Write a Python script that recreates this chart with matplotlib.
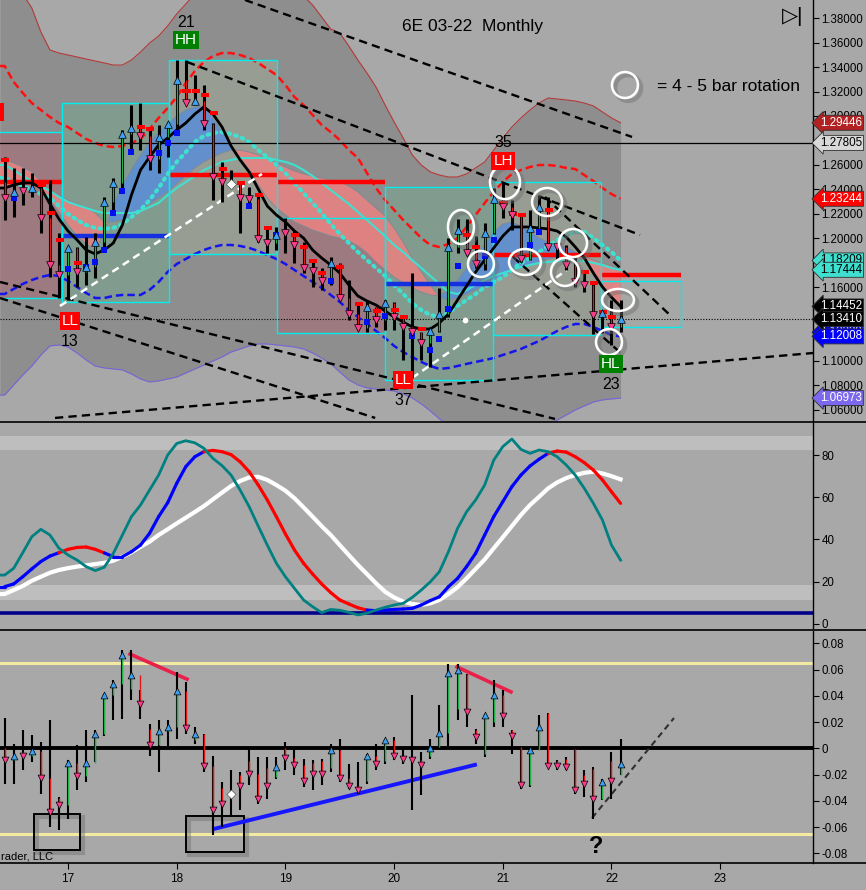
import numpy as np
import pandas as pd
import matplotlib
matplotlib.use('Agg')
import matplotlib.pyplot as plt
from matplotlib.patches import Rectangle, Ellipse
from matplotlib.collections import LineCollection
from matplotlib.lines import Line2D
import matplotlib.transforms as mtrans

plt.rcParams['font.family'] = ['Liberation Sans', 'DejaVu Sans']

# monthly bars, May 2016 .. Jan 2022 (x axis in years - 2000)
months = pd.date_range('2016-05-01', '2022-01-01', freq='MS')
t = np.asarray((months.year - 2000) + months.month / 12.0, dtype=float)

opens = [1.2460, 1.2331, 1.2420, 1.2388, 1.2412, 1.2167, 1.1784, 1.1702, 1.1922, 1.1727,
         1.1767, 1.1971, 1.2298, 1.2453, 1.2853, 1.2902, 1.2837, 1.2649, 1.2829, 1.2935,
         1.3294, 1.3106, 1.3122, 1.2935, 1.2502, 1.2445, 1.2445, 1.2331, 1.2322, 1.1996,
         1.1963, 1.2080, 1.2045, 1.1947, 1.1759, 1.1735, 1.1653, 1.1800, 1.1514, 1.1384,
         1.1269, 1.1441, 1.1335, 1.1473, 1.1359, 1.1278, 1.1237, 1.1147, 1.1245, 1.1384,
         1.1931, 1.2069, 1.1882, 1.1792, 1.2045, 1.2322, 1.2257, 1.2192, 1.1833, 1.2086,
         1.2257, 1.1940, 1.1931, 1.1784, 1.1645, 1.1620, 1.1376, 1.1392, 1.1278]
highs = [1.2665, 1.2576, 1.2576, 1.2535, 1.2453, 1.2478, 1.2045, 1.1931, 1.1931, 1.2012,
         1.2045, 1.2339, 1.2494, 1.2886, 1.3090, 1.3106, 1.2902, 1.2927, 1.2951, 1.3457,
         1.3457, 1.3335, 1.3253, 1.2940, 1.2624, 1.2559, 1.2461, 1.2420, 1.2355, 1.2094,
         1.2094, 1.2167, 1.2069, 1.1971, 1.1824, 1.1759, 1.1849, 1.1800, 1.1661, 1.1473,
         1.1498, 1.1441, 1.1498, 1.1482, 1.1359, 1.1718, 1.1237, 1.1278, 1.1596, 1.2004,
         1.2159, 1.2159, 1.2020, 1.2126, 1.2412, 1.2461, 1.2314, 1.2208, 1.2233, 1.2355,
         1.2339, 1.1947, 1.1947, 1.1849, 1.1743, 1.1645, 1.1400, 1.1498, 1.1498]
lows = [1.2151, 1.2176, 1.2273, 1.2339, 1.2045, 1.1686, 1.1514, 1.1498, 1.1604, 1.1620,
        1.1678, 1.1906, 1.2208, 1.2371, 1.2698, 1.2722, 1.2559, 1.2535, 1.2665, 1.2869,
        1.3106, 1.3090, 1.2886, 1.2314, 1.2298, 1.2420, 1.2045, 1.2273, 1.1971, 1.1882,
        1.1906, 1.1882, 1.1800, 1.1718, 1.1604, 1.1580, 1.1620, 1.1514, 1.1335, 1.1253,
        1.1237, 1.1278, 1.1253, 1.1253, 1.1008, 1.0861, 1.1008, 1.0951, 1.1240, 1.1359,
        1.1882, 1.1865, 1.1759, 1.1743, 1.2040, 1.2167, 1.2069, 1.1808, 1.1824, 1.2069,
        1.1906, 1.1824, 1.1743, 1.1604, 1.1563, 1.1220, 1.1229, 1.1131, 1.1237]
closes = [1.2331, 1.2380, 1.2388, 1.2412, 1.2167, 1.1784, 1.1702, 1.1922, 1.1727, 1.1767,
          1.1971, 1.2298, 1.2453, 1.2853, 1.2902, 1.2837, 1.2649, 1.2829, 1.2935, 1.3294,
          1.3106, 1.3122, 1.2935, 1.2502, 1.2461, 1.2445, 1.2331, 1.2322, 1.1996, 1.1963,
          1.2029, 1.2045, 1.1947, 1.1759, 1.1735, 1.1653, 1.1800, 1.1514, 1.1384, 1.1269,
          1.1441, 1.1335, 1.1473, 1.1359, 1.1278, 1.1237, 1.1147, 1.1245, 1.1384, 1.1931,
          1.2069, 1.1882, 1.1792, 1.2045, 1.2322, 1.2257, 1.2192, 1.1833, 1.2086, 1.2257,
          1.1931, 1.1931, 1.1784, 1.1645, 1.1620, 1.1376, 1.1392, 1.1278, 1.1341]

# small signal squares: bar index -> price
sq_red = {0: 1.2641, 4: 1.2437, 5: 1.2208, 6: 1.1988, 8: 1.1800, 15: 1.2910, 16: 1.2894,
          20: 1.3204, 21: 1.3204, 22: 1.3171, 23: 1.3025, 24: 1.2567, 26: 1.2453, 28: 1.2355,
          29: 1.2086, 32: 1.2029, 33: 1.1931, 34: 1.1816, 35: 1.1718, 37: 1.1767, 39: 1.1465,
          41: 1.1408, 43: 1.1416, 44: 1.1359, 46: 1.1261, 51: 1.2029, 52: 1.1931, 55: 1.2290,
          56: 1.2200, 57: 1.2192, 60: 1.2233, 64: 1.1727, 65: 1.1637, 66: 1.1400, 67: 1.1359}
sq_blue = {1: 1.2331, 7: 1.1751, 9: 1.1767, 10: 1.1808, 11: 1.1906, 12: 1.2208, 13: 1.2388,
           14: 1.2706, 17: 1.2698, 18: 1.2780, 19: 1.2861, 27: 1.2265, 30: 1.2029, 36: 1.1653,
           40: 1.1318, 42: 1.1367, 45: 1.1204, 47: 1.1090, 48: 1.1180, 49: 1.1424, 50: 1.1776,
           53: 1.1857, 54: 1.1988, 58: 1.1947, 59: 1.2053}

ma_black = [1.2412, 1.2437, 1.2453, 1.2453, 1.2412, 1.2282, 1.2159, 1.2061, 1.1988, 1.1906,
            1.1874, 1.1906, 1.1963, 1.2110, 1.2355, 1.2559, 1.2665, 1.2763, 1.2820, 1.2886,
            1.2943, 1.3016, 1.3074, 1.3016, 1.2910, 1.2755, 1.2641, 1.2543, 1.2404, 1.2265,
            1.2192, 1.2135, 1.2061, 1.2004, 1.1906, 1.1841, 1.1784, 1.1718, 1.1620, 1.1531,
            1.1490, 1.1457, 1.1408, 1.1359, 1.1318, 1.1278, 1.1261, 1.1261, 1.1310, 1.1384,
            1.1498, 1.1612, 1.1727, 1.1825, 1.1923, 1.2020, 1.2094, 1.2094, 1.2094, 1.2086,
            1.2078, 1.2061, 1.2012, 1.1931, 1.1841, 1.1718, 1.1604, 1.1520, 1.1445]
cyan_dot = [1.2494, 1.2461, 1.2429, 1.2396, 1.2363, 1.2331, 1.2265, 1.2200, 1.2151, 1.2110,
            1.2086, 1.2078, 1.2086, 1.2118, 1.2176, 1.2233, 1.2314, 1.2412, 1.2527, 1.2625,
            1.2706, 1.2788, 1.2837, 1.2861, 1.2869, 1.2853, 1.2829, 1.2788, 1.2722, 1.2665,
            1.2600, 1.2535, 1.2453, 1.2371, 1.2290, 1.2208, 1.2118, 1.2037, 1.1963, 1.1890,
            1.1824, 1.1759, 1.1694, 1.1620, 1.1547, 1.1473, 1.1416, 1.1376, 1.1359, 1.1392,
            1.1449, 1.1498, 1.1547, 1.1604, 1.1645, 1.1686, 1.1743, 1.1800, 1.1841, 1.1890,
            1.1939, 1.1988, 1.2020, 1.2061, 1.2053, 1.2004, 1.1947, 1.1890, 1.1821]
cyan_solid = [1.2600, 1.2559, 1.2510, 1.2469, 1.2429, 1.2388, 1.2339, 1.2298, 1.2273, 1.2249,
              1.2224, 1.2208, 1.2208, 1.2208, 1.2208, 1.2224, 1.2257, 1.2290, 1.2355, 1.2412,
              1.2461, 1.2510, 1.2559, 1.2592, 1.2625, 1.2641, 1.2657, 1.2657, 1.2657, 1.2657,
              1.2641, 1.2625, 1.2600, 1.2559, 1.2510, 1.2453, 1.2396, 1.2339, 1.2282, 1.2216,
              1.2151, 1.2086, 1.2020, 1.1947, 1.1890, 1.1824, 1.1759, 1.1694, 1.1629, 1.1563,
              1.1547, 1.1580, 1.1620, 1.1661, 1.1694, 1.1718, 1.1743, 1.1767, 1.1784, 1.1800,
              1.1808, 1.1816, 1.1824, 1.1824, 1.1816, 1.1800, 1.1784, 1.1759, 1.1744]
cloud_fast = [1.2420, 1.2429, 1.2437, 1.2429, 1.2396, 1.2314, 1.2216, 1.2110, 1.2020, 1.1955,
              1.1906, 1.2053, 1.2273, 1.2437, 1.2559, 1.2682, 1.2788, 1.2869, 1.2935, 1.3000,
              1.3049, 1.3074, 1.3082, 1.2984, 1.2869, 1.2763, 1.2657, 1.2559, 1.2437, 1.2331,
              1.2249, 1.2192, 1.2135, 1.2102, 1.2069, 1.2045, 1.2020, 1.2004, 1.1980, 1.1939,
              1.1882, 1.1808, 1.1743, 1.1686, 1.1637, 1.1596, 1.1563, 1.1539, 1.1531, 1.1580,
              1.1661, 1.1759, 1.1857, 1.1955, 1.2053, 1.2118, 1.2135, 1.2102, 1.2053, 1.2004,
              1.1971, 1.1947, 1.1931, 1.1890, 1.1824, 1.1727, 1.1620, 1.1522, 1.1433]
cloud_slow = [1.2641, 1.2616, 1.2584, 1.2543, 1.2461, 1.2396, 1.2347, 1.2314, 1.2282, 1.2257,
              1.2208, 1.2135, 1.2135, 1.2151, 1.2184, 1.2233, 1.2282, 1.2331, 1.2380, 1.2445,
              1.2510, 1.2576, 1.2625, 1.2665, 1.2698, 1.2722, 1.2722, 1.2706, 1.2682, 1.2649,
              1.2616, 1.2584, 1.2551, 1.2527, 1.2510, 1.2494, 1.2478, 1.2461, 1.2429, 1.2380,
              1.2314, 1.2249, 1.2184, 1.2086, 1.1971, 1.1841, 1.1727, 1.1620, 1.1522, 1.1498,
              1.1514, 1.1547, 1.1580, 1.1612, 1.1661, 1.1694, 1.1727, 1.1759, 1.1784, 1.1808,
              1.1833, 1.1849, 1.1857, 1.1857, 1.1849, 1.1824, 1.1800, 1.1776, 1.1743]
band_up = [1.3408, 1.3278, 1.3188, 1.3106, 1.3049, 1.2992, 1.2943, 1.2910, 1.2861, 1.2812,
           1.2780, 1.2755, 1.2747, 1.2755, 1.2780, 1.2812, 1.2894, 1.2984, 1.3065, 1.3155,
           1.3269, 1.3367, 1.3441, 1.3490, 1.3514, 1.3514, 1.3498, 1.3474, 1.3433, 1.3384,
           1.3335, 1.3253, 1.3155, 1.3090, 1.3008, 1.2927, 1.2869, 1.2804, 1.2722, 1.2657,
           1.2535, 1.2412, 1.2314, 1.2233, 1.2151, 1.2078, 1.2004, 1.1947, 1.1931, 1.1955,
           1.2004, 1.2094, 1.2192, 1.2290, 1.2380, 1.2461, 1.2527, 1.2559, 1.2584, 1.2600,
           1.2600, 1.2592, 1.2576, 1.2567, 1.2518, 1.2469, 1.2412, 1.2363, 1.2324]
band_lo = [1.1547, 1.1588, 1.1629, 1.1661, 1.1686, 1.1702, 1.1694, 1.1653, 1.1604, 1.1555,
           1.1514, 1.1514, 1.1531, 1.1539, 1.1539, 1.1539, 1.1580, 1.1645, 1.1727, 1.1792,
           1.1833, 1.1873, 1.1906, 1.1931, 1.1947, 1.1947, 1.1939, 1.1923, 1.1898, 1.1865,
           1.1833, 1.1792, 1.1743, 1.1694, 1.1645, 1.1596, 1.1539, 1.1482, 1.1416, 1.1359,
           1.1302, 1.1245, 1.1188, 1.1123, 1.1073, 1.1033, 1.0992, 1.0959, 1.0935, 1.0943,
           1.0959, 1.0976, 1.0992, 1.1008, 1.1024, 1.1049, 1.1073, 1.1098, 1.1131, 1.1163,
           1.1204, 1.1245, 1.1278, 1.1302, 1.1302, 1.1278, 1.1245, 1.1212, 1.1201]
env_up = [1.4192, 1.4094, 1.3996, 1.3882, 1.3686, 1.3539, 1.3514, 1.3498, 1.3482, 1.3465,
          1.3449, 1.3433, 1.3416, 1.3416, 1.3457, 1.3522, 1.3596, 1.3653, 1.3735, 1.3833,
          1.3914, 1.3996, 1.4094, 1.4176, 1.4233, 1.4274, 1.4290, 1.4290, 1.4274, 1.4241,
          1.4192, 1.4127, 1.4061, 1.3980, 1.3906, 1.3808, 1.3710, 1.3678, 1.3571, 1.3457,
          1.3351, 1.3237, 1.3090, 1.2951, 1.2820, 1.2682, 1.2600, 1.2543, 1.2518, 1.2502,
          1.2502, 1.2527, 1.2576, 1.2625, 1.2722, 1.2820, 1.2910, 1.2984, 1.3049, 1.3106,
          1.3147, 1.3139, 1.3131, 1.3122, 1.3106, 1.3082, 1.3033, 1.2984, 1.2945]
env_lo = [1.0722, 1.0804, 1.0886, 1.0959, 1.1049, 1.1123, 1.1131, 1.1114, 1.1065, 1.1008,
          1.0959, 1.0943, 1.0935, 1.0927, 1.0894, 1.0853, 1.0829, 1.0837, 1.0853, 1.0869,
          1.0902, 1.0935, 1.0967, 1.1000, 1.1033, 1.1073, 1.1098, 1.1123, 1.1139, 1.1139,
          1.1131, 1.1123, 1.1114, 1.1098, 1.1065, 1.1024, 1.0976, 1.0910, 1.0845, 1.0804,
          1.0780, 1.0771, 1.0763, 1.0755, 1.0731, 1.0698, 1.0649, 1.0592, 1.0527, 1.0478,
          1.0437, 1.0404, 1.0380, 1.0363, 1.0355, 1.0355, 1.0371, 1.0396, 1.0420, 1.0453,
          1.0486, 1.0518, 1.0559, 1.0600, 1.0633, 1.0665, 1.0682, 1.0690, 1.0697]

# yearly rotation boxes
box_start = [15.95, 16.945, 17.929, 18.923, 19.916, 20.910, 21.903]
box_end = [16.945, 17.929, 18.923, 19.916, 20.910, 21.903, 22.639]
box_hi = [1.2869, 1.3106, 1.3457, 1.2167, 1.2420, 1.2461, 1.1653]
box_lo = [1.1514, 1.1482, 1.1874, 1.1228, 1.0845, 1.1212, 1.1278]
box_mid = [1.2461, 1.2020, 1.2518, 1.2461, 1.1629, 1.1865, 1.1702]
box_fill = ['#b0606c', '#6fae90', '#a6b29c', '#b0606c', '#6fae90', '#a6b29c', '#a4a8a2']
box_line = ['#ff0000', '#1530e0', '#ff0000', '#ff0000', '#1530e0', '#ff0000', '#ff0000']

# trendlines (start, end) in (year, price)
trend_black = [((18.628, 1.3947), (22.189, 1.2829)),
               ((18.095, 1.3441), (22.262, 1.2029)),
               ((21.388, 1.2339), (22.557, 1.1359)),
               ((21.094, 1.1849), (22.106, 1.1049)),
               ((16.374, 1.1645), (21.480, 1.0527)),
               ((16.374, 1.1514), (19.826, 1.0535)),
               ((16.880, 1.0535), (23.854, 1.1065))]
trend_white = [((16.926, 1.1449), (18.784, 1.2527)),
               ((20.165, 1.0861), (21.590, 1.1743))]

circles = [(21.020, 1.2461, 0.276, 0.0278), (21.407, 1.2298, 0.276, 0.0229),
           (20.615, 1.2094, 0.239, 0.0278), (20.799, 1.1792, 0.239, 0.0212),
           (21.204, 1.1808, 0.294, 0.0212), (21.646, 1.1963, 0.258, 0.0229),
           (21.572, 1.1727, 0.258, 0.0229), (22.060, 1.1498, 0.294, 0.0180),
           (21.977, 1.1155, 0.239, 0.0212)]

pivots = [(18.086, '21', 'HH', '#008000', 1.3767, 1.3620),
          (17.018, '13', 'LL', '#ff0000', 1.1155, 1.1327),
          (21.002, '35', 'LH', '#ff0000', 1.2780, 1.2633),
          (20.082, '37', 'LL', '#ff0000', 1.0674, 1.0845),
          (21.995, '23', 'HL', '#008000', 1.0804, 1.0976),
          (16.300, '20', 'LH', '#ff0000', 1.3188, 1.3033)]

flags = [(1.29446, '#b22222', 'white'), (1.27805, '#d8d8d8', 'black'),
         (1.23244, '#ff0000', 'white'), (1.18209, '#40e0d0', 'black'),
         (1.17444, '#40e0d0', 'black'), (1.12339, '#0000ff', 'white'),
         (1.14452, '#000000', 'white'), (1.12008, '#0000ff', 'white'),
         (1.13410, '#000000', 'white'), (1.06973, '#7b68ee', 'white')]
hidden_ticks = [1.28, 1.18, 1.14, 1.12]

# stochastic panel
osc_fast = [23.1, 26.3, 33.7, 41.3, 44.8, 42.1, 35.8, 32.6, 30.2, 27.1,
            25.2, 26.8, 33.4, 42.1, 50.8, 56.3, 63.4, 70.5, 80.0, 85.5,
            86.8, 85.8, 83.2, 78.4, 75.0, 70.5, 63.4, 55.5, 46.3, 37.3,
            28.7, 22.3, 16.8, 11.3, 8.1, 5.3, 6.8, 6.4, 5.4, 4.2,
            5.0, 6.5, 7.8, 8.9, 9.7, 12.5, 16.0, 19.9, 24.7, 34.2,
            45.2, 53.1, 58.7, 65.8, 77.6, 84.0, 87.6, 82.7, 80.8, 82.4,
            81.6, 79.2, 75.3, 70.5, 64.2, 57.1, 49.2, 37.3, 30.2]
osc_mid = [17.6, 18.9, 22.3, 26.0, 29.5, 32.1, 33.7, 35.3, 36.2, 36.4,
           35.3, 33.6, 31.8, 31.8, 34.2, 37.3, 42.9, 50.8, 57.4, 66.6,
           74.5, 79.2, 81.6, 82.2, 81.6, 80.2, 76.8, 72.1, 65.8, 58.7,
           50.8, 42.6, 35.0, 28.7, 23.6, 18.9, 14.8, 11.3, 9.4, 7.6,
           6.5, 6.2, 6.5, 6.8, 7.0, 7.3, 8.9, 11.0, 12.8, 17.6,
           21.5, 27.1, 33.4, 42.1, 50.8, 57.9, 65.0, 70.5, 74.8, 78.0,
           80.8, 81.9, 81.4, 79.2, 76.4, 72.9, 68.2, 62.6, 57.1]
osc_slow = [14.1, 16.0, 17.9, 20.4, 22.3, 24.2, 25.5, 26.4, 27.1, 27.7,
            28.3, 28.9, 29.9, 31.8, 33.9, 36.5, 38.9, 42.1, 44.8, 47.6,
            50.3, 53.0, 55.8, 59.0, 62.2, 65.3, 67.7, 69.4, 69.7, 68.2,
            65.8, 63.1, 59.5, 55.2, 50.8, 46.3, 42.1, 37.3, 32.6, 27.9,
            23.6, 19.2, 15.2, 12.5, 10.5, 9.4, 8.9, 9.7, 11.3, 14.1,
            17.3, 21.5, 26.0, 30.5, 35.8, 41.0, 46.3, 51.6, 56.3, 60.2,
            64.2, 67.0, 69.1, 70.5, 71.6, 72.1, 71.3, 70.0, 68.5]

# momentum panel
mom_open = [0.0000, -0.0092, -0.0030, -0.0061, -0.0021, -0.0224, -0.0380, -0.0435, -0.0112, -0.0211,
            -0.0112, 0.0106, 0.0404, 0.0493, 0.0450, 0.0561, 0.0150, 0.0028, 0.0132, 0.0162,
            0.0434, 0.0060, 0.0111, -0.0138, -0.0300, -0.0346, -0.0200, -0.0100, -0.0199, -0.0150,
            -0.0220, 0.0000, -0.0074, -0.0125, -0.0110, -0.0100, -0.0150, -0.0011, -0.0224, -0.0290,
            -0.0250, -0.0059, -0.0100, 0.0061, -0.0059, -0.0079, -0.0087, -0.0060, 0.0010, 0.0117,
            0.0300, 0.0569, 0.0140, -0.0040, 0.0200, 0.0404, 0.0137, 0.0010, -0.0282, -0.0011,
            0.0269, -0.0100, -0.0080, -0.0003, -0.0200, -0.0160, -0.0384, -0.0100, -0.0206]
mom_high = [0.0233, 0.0035, 0.0142, 0.0099, 0.0048, 0.0213, -0.0371, -0.0092, 0.0022, 0.0137,
            0.0137, 0.0416, 0.0518, 0.0747, 0.0747, 0.0442, 0.0188, 0.0213, 0.0213, 0.0581,
            0.0505, 0.0162, 0.0111, -0.0061, -0.0257, -0.0168, -0.0181, -0.0003, -0.0066, -0.0066,
            -0.0066, 0.0048, 0.0010, -0.0079, -0.0092, -0.0079, 0.0035, 0.0073, -0.0117, -0.0105,
            -0.0041, 0.0035, 0.0073, 0.0086, 0.0010, 0.0404, -0.0028, 0.0073, 0.0327, 0.0645,
            0.0645, 0.0569, 0.0149, 0.0264, 0.0518, 0.0442, 0.0137, 0.0010, -0.0003, 0.0251,
            0.0269, -0.0092, -0.0066, -0.0003, -0.0168, -0.0143, -0.0232, -0.0028, 0.0073]
mom_low = [-0.0270, -0.0270, -0.0168, -0.0105, -0.0351, -0.0600, -0.0625, -0.0536, -0.0320, -0.0257,
           -0.0105, 0.0091, 0.0213, 0.0226, 0.0365, 0.0226, -0.0061, -0.0181, -0.0016, 0.0073,
           0.0111, 0.0035, -0.0181, -0.0663, -0.0600, -0.0524, -0.0473, -0.0282, -0.0422, -0.0384,
           -0.0232, -0.0168, -0.0206, -0.0295, -0.0320, -0.0282, -0.0181, -0.0257, -0.0308, -0.0346,
           -0.0270, -0.0168, -0.0117, -0.0092, -0.0117, -0.0473, -0.0359, -0.0079, 0.0010, 0.0010,
           0.0213, 0.0162, 0.0035, -0.0066, 0.0162, 0.0162, -0.0041, -0.0308, -0.0295, -0.0016,
           -0.0143, -0.0168, -0.0168, -0.0346, -0.0371, -0.0536, -0.0397, -0.0384, -0.0206]
mom_close = [-0.0092, -0.0061, -0.0061, -0.0021, -0.0224, -0.0486, -0.0435, -0.0112, -0.0211, -0.0112,
             0.0106, 0.0404, 0.0493, 0.0708, 0.0561, 0.0335, 0.0028, 0.0132, 0.0162, 0.0434,
             0.0157, 0.0111, -0.0138, -0.0473, -0.0427, -0.0346, -0.0290, -0.0199, -0.0389, -0.0290,
             -0.0143, -0.0074, -0.0125, -0.0249, -0.0199, -0.0199, -0.0011, -0.0224, -0.0290, -0.0315,
             -0.0059, -0.0117, 0.0061, -0.0059, -0.0079, -0.0087, -0.0125, 0.0002, 0.0117, 0.0574,
             0.0594, 0.0277, 0.0086, 0.0251, 0.0404, 0.0243, 0.0091, -0.0282, -0.0011, 0.0162,
             -0.0138, -0.0138, -0.0143, -0.0315, -0.0275, -0.0384, -0.0257, -0.0249, -0.0117]
mom_red = [((17.570, 0.0718), (18.095, 0.0527)), ((20.579, 0.0620), (21.075, 0.0430))]
mom_blue = ((18.343, -0.0614), (20.744, -0.0126))
mom_dash = ((21.821, -0.0531), (22.575, 0.0231))
mom_boxes = [(16.687, 17.110, -0.0773, -0.0498), (18.086, 18.619, -0.0787, -0.0513)]

BG = '#a8a8a8'
W, H = 866.0, 890.0
X0, X1 = 16.374, 23.854

fig = plt.figure(figsize=(8.66, 8.9), dpi=100, facecolor=BG)


def panel(top, bottom):
    ax = fig.add_axes([0, 1 - bottom / H, 813 / W, (bottom - top) / H])
    ax.set_facecolor(BG)
    ax.set_xlim(X0, X1)
    for s in ('left', 'top', 'bottom'):
        ax.spines[s].set_visible(False)
    ax.spines['right'].set_color('black')
    ax.spines['right'].set_linewidth(1.0)
    ax.yaxis.tick_right()
    ax.tick_params(axis='y', direction='out', length=4, width=0.8, labelsize=8.3, pad=2)
    ax.set_xticks([])
    return ax


def ext(vals):
    # carry the first value to the left edge of the axes
    v = np.asarray(vals, dtype=float)
    return np.r_[X0, t], np.r_[v[0], v]


def draw_bars(ax, o, h, l, c, wick, body, ms):
    o, h, l, c = map(np.asarray, (o, h, l, c))
    up = c > o
    dn = c < o
    ax.vlines(t, l, h, color='black', lw=wick, zorder=7)
    ax.vlines(t[up], o[up], c[up], color='#22b04a', lw=body, zorder=8)
    ax.vlines(t[dn], o[dn], c[dn], color='#e01818', lw=body, zorder=8)
    ax.scatter(t[up], c[up], marker='^', s=ms, c='#3ea0f0', edgecolors='black', linewidths=0.5, zorder=9)
    ax.scatter(t[dn], c[dn], marker='v', s=ms, c='#ff3c8c', edgecolors='black', linewidths=0.5, zorder=9)
    eq = ~(up | dn)
    ax.scatter(t[eq], c[eq], marker='D', s=ms * 0.9, c='white', edgecolors='#555555', linewidths=0.5, zorder=9)


# ---------------- price panel ----------------
ax1 = panel(0, 421)
ax1.set_ylim(1.0510, 1.3947)
pt = [v for v in np.round(np.arange(1.06, 1.3801, 0.02), 2) if v not in hidden_ticks]
ax1.set_yticks(pt)
ax1.set_yticklabels(['%.5f' % v for v in pt])

tx, eu = ext(env_up)
_, el = ext(env_lo)
ax1.fill_between(tx, el, eu, color='#8e8e8e', lw=0, zorder=1)
ax1.plot(tx, eu, color='#b23a3a', lw=0.8, zorder=4)
ax1.plot(tx, el, color='#7466d8', lw=0.8, zorder=4)

for x0, x1, lo, hi, fc, lc, md in zip(box_start, box_end, box_lo, box_hi, box_fill, box_line, box_mid):
    ax1.add_patch(Rectangle((x0, lo), x1 - x0, hi - lo, fc=fc, ec='none', alpha=0.42, zorder=2))
    ax1.add_patch(Rectangle((x0, lo), x1 - x0, hi - lo, fill=False, ec='#00eeee', lw=1.0, zorder=6))
    ax1.plot([x0, x1], [md, md], color=lc, lw=3.2, solid_capstyle='butt', zorder=5)

_, cf = ext(cloud_fast)
_, cs = ext(cloud_slow)
ax1.fill_between(tx, cf, cs, where=cf >= cs, interpolate=True, color='#5a8ed8', alpha=0.85, lw=0, zorder=3)
ax1.fill_between(tx, cf, cs, where=cf < cs, interpolate=True, color='#ec8282', alpha=0.85, lw=0, zorder=3)
ax1.plot(tx, cf, color='#7f8a95', lw=0.7, zorder=3)
ax1.plot(tx, cs, color='#7f8a95', lw=0.7, zorder=3)

_, bu = ext(band_up)
_, bl = ext(band_lo)
ax1.plot(tx, bu, color='#ff1010', lw=1.8, ls=(0, (3, 1.6)), zorder=4)
ax1.plot(tx, bl, color='#1414ee', lw=1.8, ls=(0, (3, 1.6)), zorder=4)
_, cd = ext(cyan_dot)
_, cso = ext(cyan_solid)
ax1.plot(tx, cso, color='#40e0d0', lw=1.5, zorder=4)
ax1.plot(tx, cd, color='#40e0d0', lw=3.0, ls=(0, (0.4, 1.3)), dash_capstyle='round', zorder=4)
_, mb = ext(ma_black)
ax1.plot(tx, mb, color='black', lw=2.0, zorder=6)

ax1.axhline(1.27805, color='black', lw=0.9, zorder=5)
ax1.axhline(1.13410, color='black', lw=0.8, ls=(0, (1, 1.5)), zorder=5)

for (a, b) in trend_black:
    ax1.plot([a[0], b[0]], [a[1], b[1]], color='black', lw=1.7, ls=(0, (3.5, 2.2)), zorder=6)
for (a, b) in trend_white:
    ax1.plot([a[0], b[0]], [a[1], b[1]], color='white', lw=1.8, ls=(0, (3, 2)), zorder=6)

draw_bars(ax1, opens, highs, lows, closes, 2.2, 0.9, 30)
ri = list(sq_red.keys())
bi = list(sq_blue.keys())
ax1.scatter(t[ri] - 0.012, list(sq_red.values()), marker='s', s=9, c='#ff0000', lw=0, zorder=8)
ax1.scatter(t[ri] + 0.025, list(sq_red.values()), marker='s', s=9, c='#ff0000', lw=0, zorder=8)
ax1.scatter(t[bi], list(sq_blue.values()), marker='s', s=14, c='#0010ee', lw=0, zorder=8)
ax1.scatter([20.652], [1.1335], s=10, c='white', zorder=8)

for cx, cy, w, h in circles:
    ax1.add_patch(Ellipse((cx + 0.03, cy - 0.0025), w, h, fill=False, ec='#6e6e6e', lw=3, alpha=0.45, zorder=10))
    ax1.add_patch(Ellipse((cx, cy), w, h, fill=False, ec='white', lw=1.8, zorder=11))

ax1.add_patch(Ellipse((22.154, 1.3228), 0.239, 0.0212, fill=False, ec='#6e6e6e', lw=3, alpha=0.45, zorder=10))
ax1.add_patch(Ellipse((22.124, 1.3253), 0.239, 0.0212, fill=False, ec='white', lw=1.8, zorder=11))
ax1.text(22.419, 1.3240, '= 4 - 5 bar rotation', fontsize=12.5, va='center', ha='left', zorder=12)
ax1.text(20.717, 1.3727, '6E 03-22  Monthly', fontsize=12.5, ha='center', va='center', zorder=12)

for px, num, tag, col, ny, ty in pivots:
    ax1.text(px, ny, num, fontsize=11.5, ha='center', va='center', zorder=12, clip_on=True)
    ax1.text(px, ty, tag, fontsize=11, ha='center', va='center', color='white', zorder=12, clip_on=True,
             bbox=dict(boxstyle='square,pad=0.12', fc=col, ec='none'))

trans1 = mtrans.blended_transform_factory(ax1.transAxes, ax1.transData)
for val, fc, tc in flags:
    ax1.text(1.0085, val, '%.5f' % val, transform=trans1, ha='left', va='center', fontsize=8.4, color=tc,
             zorder=20, clip_on=False,
             bbox=dict(boxstyle='larrow,pad=0.13', fc=fc, ec='#303030', lw=0.6))

fig.text(793 / W, 1 - 17 / H, '\u25b7|', fontsize=15, ha='center', va='center')

# ---------------- stochastic panel ----------------
ax2 = panel(423, 628)
ax2.set_ylim(-2.0, 95.2)
ax2.set_yticks([0, 20, 40, 60, 80])
ax2.set_yticklabels(['0', '20', '40', '60', '80'])
ax2.axhspan(82.4, 89.0, color='#bebebe', lw=0, zorder=1)
ax2.axhspan(11.3, 18.4, color='#bebebe', lw=0, zorder=1)
ax2.axhline(5.1, color='#00008b', lw=2.6, zorder=2)
tx2, ws = ext(osc_slow)
ax2.plot(tx2, ws, color='white', lw=3.0, zorder=3)
_, om = ext(osc_mid)
_, of = ext(osc_fast)
pts = np.column_stack([tx2, om])
segs = np.stack([pts[:-1], pts[1:]], axis=1)
seg_cols = ['#ff0000' if f < m else '#0000ff' for f, m in zip(of[1:], om[1:])]
ax2.add_collection(LineCollection(segs, colors=seg_cols, linewidths=2.3, zorder=4, capstyle='round'))
ax2.plot(tx2, of, color='#008080', lw=2.0, zorder=5)

# ---------------- momentum panel ----------------
ax3 = panel(631, 863)
ax3.set_ylim(-0.0874, 0.0894)
mt = [0.08, 0.06, 0.04, 0.02, 0.0, -0.02, -0.04, -0.06, -0.08]
ax3.set_yticks(mt)
ax3.set_yticklabels(['0' if v == 0 else '%.2f' % v for v in mt])
ax3.axhline(0.065, color='#f2eaa0', lw=2.2, zorder=1)
ax3.axhline(-0.065, color='#f2eaa0', lw=2.2, zorder=1)
ax3.axhline(0.0, color='black', lw=2.8, zorder=2)
for (a, b) in mom_red:
    ax3.plot([a[0], b[0]], [a[1], b[1]], color='#e8204a', lw=2.6, zorder=6)
ax3.plot([mom_blue[0][0], mom_blue[1][0]], [mom_blue[0][1], mom_blue[1][1]], color='#1616ff', lw=2.8, zorder=6)
ax3.plot([mom_dash[0][0], mom_dash[1][0]], [mom_dash[0][1], mom_dash[1][1]], color='#303030', lw=1.5,
         ls=(0, (3, 2)), zorder=6)
for x0, x1, lo, hi in mom_boxes:
    ax3.add_patch(Rectangle((x0 + 0.03, lo - 0.0025), x1 - x0, hi - lo, fill=False, ec='#707070', lw=3,
                            alpha=0.45, zorder=4))
    ax3.add_patch(Rectangle((x0, lo), x1 - x0, hi - lo, fill=False, ec='black', lw=1.4, zorder=5))
draw_bars(ax3, mom_open, mom_high, mom_low, mom_close, 1.5, 1.0, 24)
ax3.text(21.857, -0.0752, '?', fontsize=17, fontweight='bold', ha='center', va='center', zorder=10)
ax3.text(X0 + 0.01, -0.0828, 'rader, LLC', fontsize=8, ha='left', va='center', zorder=10)
ax3.set_xticks([17, 18, 19, 20, 21, 22, 23])
ax3.set_xticklabels(['17', '18', '19', '20', '21', '22', '23'])
ax3.tick_params(axis='x', direction='out', length=4, width=0.8, labelsize=8.5, pad=3)

for yy in (422, 630, 863):
    fig.add_artist(Line2D([0, 1], [1 - yy / H, 1 - yy / H], color='black', lw=1.2, transform=fig.transFigure))

fig.savefig('out.png', dpi=100, facecolor=BG)
